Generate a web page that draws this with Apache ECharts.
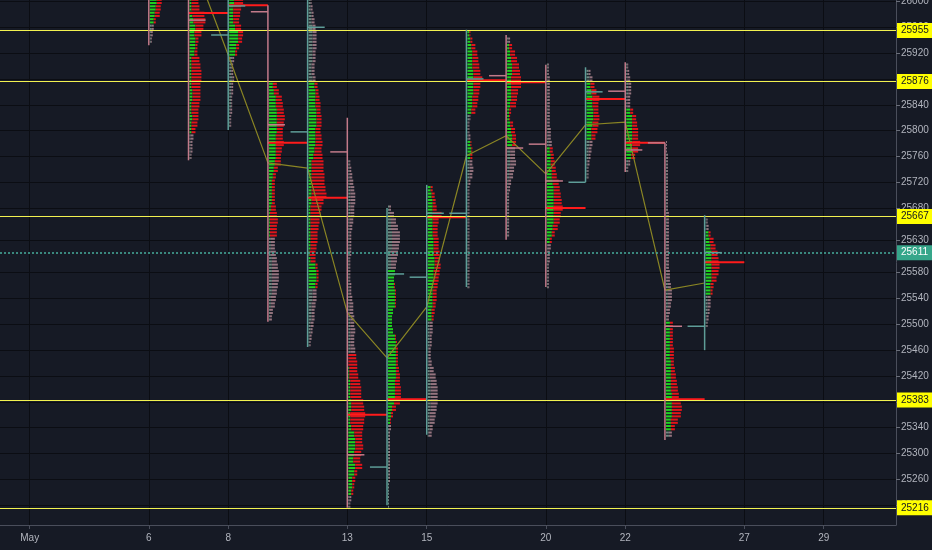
<!DOCTYPE html>
<html><head><meta charset="utf-8">
<script src="https://cdn.jsdelivr.net/npm/echarts@6.0.0/dist/echarts.min.js"></script>
<style>html,body{margin:0;padding:0;background:#161a25;}#c{width:932px;height:550px;}</style>
</head><body><div id="c"></div>
<script>
// ---- axes ----
const xTickIdx = [0, 3, 5, 8, 10, 13, 15, 18, 20];
const xTickLabels = ['May', '6', '8', '13', '15', '20', '22', '27', '29'];
const yTickValues = [26000, 25960, 25920, 25880, 25840, 25800, 25760, 25720, 25680, 25630, 25580, 25540, 25500, 25460, 25420, 25380, 25340, 25300, 25260, 25220];
const levelLines = [25955, 25876, 25667, 25383, 25216];
const lastPrice = 25611;

// ---- sessions (trading-day index: May 1 = 0) ----
const dayIdx   = [3, 4, 5, 6, 7, 8, 9, 10, 11, 12, 13, 14, 15, 16, 17];
const dayOpen  = [26040, 26040, 25948, 25984, 25798, 25767, 25279, 25573, 25672, 25885, 25779, 25720, 25861, 25781, 25497];
const dayHigh  = [26060, 26070, 26030, 25994, 26030, 25820, 25680, 25716, 25956, 25948, 25902, 25898, 25906, 25781, 25669];
const dayLow   = [25932, 25754, 25801, 25504, 25465, 25216, 25220, 25329, 25558, 25631, 25558, 25720, 25736, 25321, 25460];
const dayClose = [26015, 25971, 25993, 25809, 25960, 25298, 25578, 25672, 25880, 25773, 25722, 25860, 25770, 25497, 25611];
const pocPrice = [null, 25982, 25994, 25781, 25696, 25360, 25384, 25666, 25878, 25875, 25680, 25849, 25781, 25384, 25596];
const midLine  = [null, 26080, 25917, 25750, 25742, 25518, 25448, 25527, 25761, 25792, 25733, 25809, 25813, 25553, 25564];
const vaRanges = [
  [[26010, 25965]], [[26010, 25795]], [[26010, 25915]], [[25875, 25635]], [[25875, 25555]],
  [[25455, 25235]], [[25585, 25345]], [[25715, 25505]], [[25955, 25825], [25785, 25755]], [[25935, 25775]],
  [[25775, 25625]], [[25875, 25785]], [[25835, 25755]], [[25505, 25335]], [[25645, 25545]]
];
const rowStep = 10;
const profileTop = [26000, 26000, 26000, 25870, 26000, 25750, 25680, 25710, 25950, 25940, 25900, 25890, 25900, 25780, 25660];

// profile rows from top price downward: [total volume, up volume]
const prof06 = [[12,7],[11,6],[10,5],[6,4],[4,2],[3,1],[2,1]];
const prof07 = [[9,2],[10,2],[15,3],[16,4],[14,6],[12,5],[9,6],[8,6],[8,5],[10,2],[11,2],[12,2],[12,2],[11,2],[11,3],[11,3],[10,2],[9,2],[9,3],[8,2],[6,2],[4,1],[3,1],[3,1],[2,1]];
const prof08 = [[14,5],[12,4],[11,4],[10,4],[12,6],[14,9],[13,9],[10,7],[8,6],[5,3],[4,2],[4,2],[5,3],[4,2],[4,2],[3,2],[3,2],[3,1],[2,1],[2,1]];
const prof09 = [[8,4],[10,5],[13,7],[14,7],[15,8],[16,8],[15,8],[14,8],[14,7],[15,7],[13,7],[12,7],[12,6],[9,5],[7,4],[6,3],[6,3],[6,3],[6,3],[7,2],[8,1],[9,1],[8,1],[8,1],[6,2],[6,2],[7,2],[8,3],[9,3],[10,3],[10,3],[9,3],[8,3],[7,2],[6,2],[4,1],[3,1]];
const prof10 = [[3,2],[4,2],[5,3],[6,3],[7,4],[8,4],[8,4],[8,4],[7,4],[7,4],[6,3],[6,3],[7,4],[9,6],[10,7],[11,7],[12,7],[12,8],[13,8],[13,8],[12,7],[13,7],[14,7],[13,6],[14,5],[15,3],[15,3],[16,3],[16,3],[17,3],[18,3],[15,3],[13,2],[12,2],[11,2],[10,2],[9,2],[9,2],[8,2],[7,1],[7,2],[9,7],[10,8],[10,8],[9,7],[8,4],[8,4],[7,3],[6,3],[6,3],[5,2],[4,2],[3,1],[2,1]];
const prof13 = [[2,1],[3,1],[4,1],[5,1],[6,2],[7,2],[7,2],[6,2],[6,2],[5,1],[4,1],[3,1],[3,1],[3,1],[3,1],[2,1],[2,1],[2,1],[2,1],[3,1],[3,1],[4,1],[5,1],[5,1],[6,2],[6,2],[7,2],[6,2],[6,2],[7,2],[8,0],[9,0],[9,1],[10,1],[12,2],[13,2],[13,2],[15,3],[16,3],[17,2],[16,2],[15,3],[14,6],[14,7],[15,7],[13,6],[12,5],[14,7],[9,6],[7,4],[6,4],[5,3],[3,1],[2,1]];
const prof14 = [[3,1],[6,2],[8,3],[10,3],[12,4],[12,4],[11,4],[10,3],[9,3],[8,3],[7,7],[6,6],[7,6],[8,7],[8,7],[8,7],[5,5],[4,4],[4,4],[5,5],[8,7],[9,8],[10,8],[10,8],[10,8],[11,8],[12,8],[12,7],[13,7],[13,7],[12,6],[8,4],[5,3],[3,2],[3,1],[2,1],[2,1],[2,1],[2,1],[2,1],[2,1],[2,1],[2,1],[1,1],[1,1],[1,1],[1,1]];
const prof15 = [[5,3],[7,4],[8,5],[9,5],[14,5],[11,5],[10,5],[10,5],[11,6],[11,6],[12,6],[12,7],[13,7],[12,6],[11,6],[10,6],[9,5],[9,5],[8,5],[7,4],[6,4],[5,2],[5,2],[4,2],[4,2],[3,1],[3,1],[4,1],[6,2],[8,2],[9,3],[10,3],[10,3],[10,3],[9,3],[8,2],[7,2],[5,2],[4,1]];
const prof16 = [[3,2],[5,3],[8,4],[10,5],[11,5],[12,5],[13,6],[15,6],[13,6],[12,6],[11,5],[10,5],[8,4],[3,2],[2,1],[2,1],[3,1],[4,3],[5,4],[5,3],[5,2],[6,2],[5,2],[3,1],[2,1],[2,1],[2,1],[2,1],[2,1],[2,1],[2,1],[2,1],[2,1],[2,1],[2,1],[2,1],[2,1],[2,1],[2,1],[2,1]];
const prof17 = [[3,1],[5,2],[8,3],[10,4],[12,5],[13,5],[14,4],[14,4],[11,4],[10,4],[9,3],[4,2],[3,2],[6,3],[8,4],[9,5],[9,5],[8,3],[8,3],[9,3],[7,2],[6,2],[4,1],[3,1],[2,1],[2,1],[2,1],[2,1],[2,1],[2,1],[2,1]];
const prof20 = [[2,1],[2,1],[3,1],[3,1],[3,1],[3,1],[3,1],[3,1],[3,1],[3,1],[4,1],[4,1],[5,2],[6,3],[7,4],[8,4],[9,5],[10,5],[12,6],[13,7],[14,7],[15,7],[16,7],[14,7],[13,7],[11,6],[8,5],[5,3],[4,1],[3,1],[3,1],[2,1],[2,1],[2,1],[2,1]];
const prof21 = [[4,2],[6,3],[8,4],[10,5],[13,6],[12,6],[12,7],[13,7],[12,6],[11,5],[9,5],[6,3],[5,2],[4,2],[3,1],[2,1],[2,1]];
const prof22 = [[2,1],[3,1],[4,1],[5,2],[5,2],[4,1],[4,1],[7,4],[10,6],[11,6],[12,6],[12,6],[14,6],[12,6],[9,5],[4,2],[2,1]];
const prof23 = [[1,0],[1,0],[2,1],[2,1],[2,1],[2,1],[2,1],[2,1],[2,1],[2,1],[2,1],[3,1],[3,1],[3,1],[3,1],[3,1],[3,1],[3,1],[3,1],[3,1],[4,1],[4,1],[5,2],[6,2],[6,2],[5,2],[4,1],[3,1],[7,4],[7,4],[7,4],[7,4],[8,4],[8,4],[8,5],[9,5],[10,5],[11,5],[12,5],[13,6],[15,6],[16,6],[15,6],[12,5],[9,5],[6,3]];
const prof24 = [[2,1],[3,1],[5,3],[8,4],[10,5],[12,6],[13,6],[14,6],[13,6],[11,6],[8,5],[7,5],[5,2],[5,2],[4,2],[3,1],[2,1]];
const profiles = [prof06, prof07, prof08, prof09, prof10, prof13, prof14, prof15, prof16, prof17, prof20, prof21, prof22, prof23, prof24];

// ---- build series data ----
const volPerDay = 40;
const profRows = [];
dayIdx.forEach((di, i) => {
  profiles[i].forEach((r, k) => {
    const price = profileTop[i] - k * rowStep;
    const inVA = vaRanges[i].some(v => price <= v[0] && price >= v[1]) ? 1 : 0;
    profRows.push([di, price, r[0], r[1], inVA]);
  });
});
const ohlcRows = dayIdx.map((di, i) => [di, dayOpen[i], dayHigh[i], dayLow[i], dayClose[i]]);
const pocRows = [];
dayIdx.forEach((di, i) => { if (pocPrice[i] != null) pocRows.push([di, pocPrice[i]]); });
const midRows = [];
dayIdx.forEach((di, i) => { if (midLine[i] != null) midRows.push([di, midLine[i]]); });

const FONT = 'Liberation Sans, Arial, sans-serif';
const chart = echarts.init(document.getElementById('c'), null, {renderer: 'canvas'});
chart.setOption({
  animation: false,
  backgroundColor: '#161a25',
  grid: {left: 0, right: 36, top: 0, bottom: 25, outerBoundsMode: 'none', containLabel: false},
  xAxis: {
    type: 'value', min: -0.748, max: 21.82,
    axisLine: {show: true, onZero: false, lineStyle: {color: '#4a4e5b', width: 1}},
    axisTick: {show: true, length: 4, customValues: xTickIdx, lineStyle: {color: '#4a4e5b'}},
    axisLabel: {customValues: xTickIdx, color: '#b2b5be', fontSize: 10, fontFamily: FONT, margin: 8,
      formatter: v => xTickLabels[xTickIdx.indexOf(Math.round(v))] || ''},
    splitLine: {show: true, lineStyle: {color: '#0b0d13', width: 1}}
  },
  yAxis: {
    type: 'value', position: 'right', min: 25189.3, max: 26002.2,
    axisLine: {show: true, onZero: false, lineStyle: {color: '#4a4e5b', width: 1}},
    axisTick: {show: true, length: 4, customValues: yTickValues, lineStyle: {color: '#6a6e7a'}},
    axisLabel: {customValues: yTickValues, color: '#b2b5be', fontSize: 10, fontFamily: FONT, margin: 5,
      formatter: v => String(v)},
    splitLine: {show: true, lineStyle: {color: '#0b0d13', width: 1}}
  },
  series: [
    {
      type: 'custom', name: 'profile', z: 2, clip: true, data: profRows,
      renderItem: (params, api) => {
        const idx = api.value(0), price = api.value(1), tot = api.value(2), up = api.value(3), va = api.value(4);
        const top = api.coord([idx, price + rowStep / 2]);
        const bot = api.coord([idx, price - rowStep / 2]);
        const x0 = top[0] + 1;
        const xUp = api.coord([idx + up / volPerDay, price])[0] + 1;
        const xEnd = api.coord([idx + tot / volPerDay, price])[0] + 1;
        const pitch = (bot[1] - top[1]) / 2;
        const h = pitch * 0.62;
        const cUp = va ? '#1fd41f' : '#6d8a80';
        const cDn = va ? '#e3141a' : '#95747f';
        const children = [];
        for (let s = 0; s < 2; s++) {
          const y = top[1] + s * pitch + (pitch - h) / 2;
          if (xUp > x0) children.push({type: 'rect', shape: {x: x0, y: y, width: xUp - x0, height: h}, style: {fill: cUp}});
          if (xEnd > xUp) children.push({type: 'rect', shape: {x: xUp, y: y, width: xEnd - xUp, height: h}, style: {fill: cDn}});
        }
        return {type: 'group', children: children};
      }
    },
    {
      type: 'line', name: 'mid', z: 3, data: midRows, showSymbol: false, symbol: 'none',
      lineStyle: {color: '#8a8524', width: 1.2}, clip: true
    },
    {
      type: 'custom', name: 'poc', z: 4, clip: true, data: pocRows,
      renderItem: (params, api) => {
        const a = api.coord([api.value(0), api.value(1)]);
        const b = api.coord([api.value(0) + 1, api.value(1)]);
        return {type: 'rect', shape: {x: a[0], y: a[1] - 1, width: b[0] - a[0], height: 2}, style: {fill: '#ff1b1b'}};
      }
    },
    {
      type: 'custom', name: 'ohlc', z: 5, clip: true, data: ohlcRows,
      renderItem: (params, api) => {
        const idx = api.value(0), o = api.value(1), hi = api.value(2), lo = api.value(3), c = api.value(4);
        const col = c >= o ? '#5e9d98' : '#c27a8a';
        const pH = api.coord([idx, hi]), pL = api.coord([idx, lo]);
        const pO = api.coord([idx, o]), pOl = api.coord([idx - 0.43, o]);
        const pC = api.coord([idx, c]), pCr = api.coord([idx + 0.43, c]);
        const st = {stroke: col, lineWidth: 1.5};
        return {type: 'group', children: [
          {type: 'line', shape: {x1: pH[0], y1: pH[1], x2: pL[0], y2: pL[1]}, style: st},
          {type: 'line', shape: {x1: pOl[0], y1: pO[1], x2: pO[0], y2: pO[1]}, style: st},
          {type: 'line', shape: {x1: pC[0], y1: pC[1], x2: pCr[0], y2: pC[1]}, style: st}
        ]};
      }
    },
    {
      type: 'line', name: 'levels', z: 10, data: [], silent: true,
      markLine: {
        silent: true, symbol: ['none', 'none'], animation: false,
        data: levelLines.map(v => ({
          yAxis: v,
          lineStyle: {color: '#f2f250', width: 1.2, type: 'solid'},
          label: {show: true, position: 'end', distance: 1, formatter: String(v), color: '#131722',
            backgroundColor: '#ffff00', padding: [3, 4, 2, 4], fontSize: 10, fontFamily: FONT}
        })).concat([{
          yAxis: lastPrice,
          lineStyle: {color: '#47ad9c', width: 1.5, type: [2, 2]},
          label: {show: true, position: 'end', distance: 1, formatter: String(lastPrice), color: '#ffffff',
            backgroundColor: '#36a68a', padding: [3, 4, 2, 4], fontSize: 10, fontFamily: FONT}
        }])
      }
    }
  ]
});
</script></body></html>
